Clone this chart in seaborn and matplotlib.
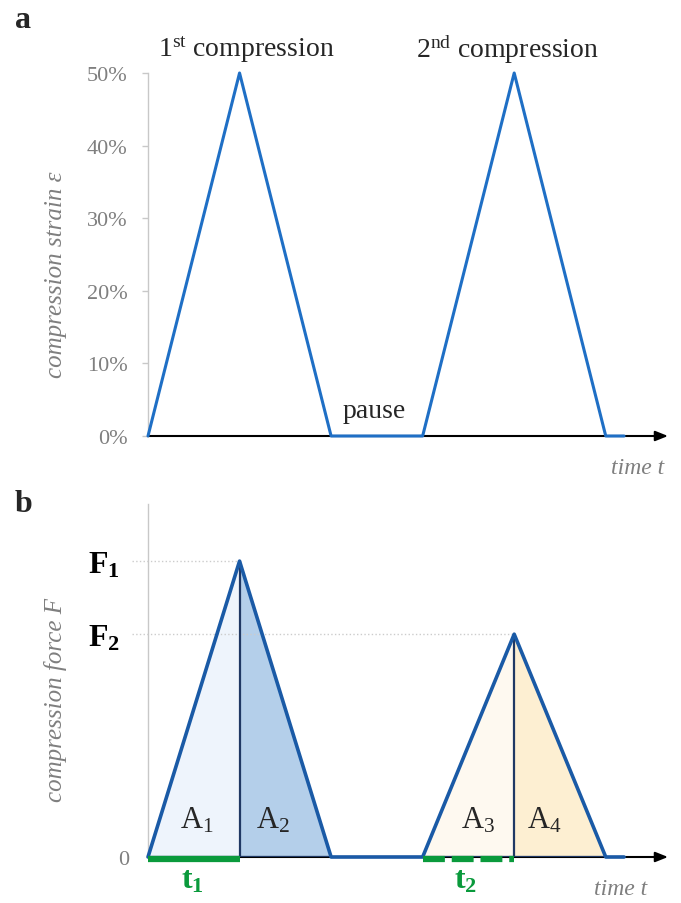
import numpy as np
import pandas as pd
import matplotlib
matplotlib.use('Agg')
import matplotlib.pyplot as plt
import matplotlib.transforms as mtransforms
import seaborn as sns

#%% data
time_pts = [0, 1, 2, 3, 4, 5, 5.2]
strain_pct = [0, 50, 0, 0, 50, 0, 0]          # panel a, %
force_rel = [0, 1.0, 0, 0, 0.753, 0, 0]       # panel b, F1 = 1
strain_ticks = [0, 10, 20, 30, 40, 50]
strain_ticklabels = ['0%', '10%', '20%', '30%', '40%', '50%']
force_ticks = [0, 0.753, 1.0]
force_ticklabels = ['0', r'$\mathbf{F_2}$', r'$\mathbf{F_1}$']
area_labels = [r'A$_1$', r'A$_2$', r'A$_3$', r'A$_4$']
area_x = [0.535, 1.37, 3.60, 4.33]

df_a = pd.DataFrame({'t': time_pts, 'strain': strain_pct})
df_b = pd.DataFrame({'t': time_pts, 'force': force_rel})

#%% style
sns.set_style('white')
plt.rcParams['font.family'] = ['Liberation Serif', 'DejaVu Serif']
plt.rcParams['mathtext.fontset'] = 'custom'
plt.rcParams['mathtext.rm'] = 'Liberation Serif'
plt.rcParams['mathtext.it'] = 'Liberation Serif:italic'
plt.rcParams['mathtext.bf'] = 'Liberation Serif:bold'

gray_txt = '#7f7f7f'
spine_c = '#c8c8c8'
blue = '#1f6fc5'
outline = '#1a5aa6'
navy = '#1f3864'
green = '#0a9a3c'

fig = plt.figure(figsize=(6.81, 9.04), dpi=100)
W, H = 681, 904
x0px, xend = 148, 668
xmax = 5.68

def px_axes(top, bottom):
    return fig.add_axes([x0px / W, 1 - bottom / H, (xend - x0px) / W, (bottom - top) / H])

def axis_arrow(ax):
    ax.annotate('', xy=(xmax, 0), xytext=(0, 0), xycoords='data',
                arrowprops=dict(arrowstyle='-|>,head_length=0.75,head_width=0.3',
                                color='black', lw=1.5, shrinkA=0, shrinkB=0),
                annotation_clip=False)

def style_ax(ax):
    for s in ['top', 'right', 'bottom']:
        ax.spines[s].set_visible(False)
    ax.spines['left'].set_color(spine_c)
    ax.spines['left'].set_linewidth(1.0)
    ax.set_xticks([])
    ax.set_xlabel('')

#%% panel a
ax1 = px_axes(74, 437)
sns.lineplot(data=df_a, x='t', y='strain', sort=False, color=blue, lw=2.2,
             ax=ax1, clip_on=False, zorder=5)
ax1.set_xlim(0, xmax)
ax1.set_ylim(0, 50)
style_ax(ax1)
ax1.set_yticks(strain_ticks)
ax1.set_yticklabels(strain_ticklabels)
ax1.tick_params(axis='y', colors=spine_c, labelcolor=gray_txt, labelsize=16,
                length=4.3, width=1, pad=10.5, left=True)
axis_arrow(ax1)
ax1.set_ylabel('compression strain ε', fontstyle='italic', color=gray_txt, fontsize=18)
ax1.yaxis.set_label_coords(-0.156, 0.446)
ax1.text(1.07, 53.3, r'1$^{\mathrm{st}}$ compression', ha='center', va='center', fontsize=20)
ax1.text(3.93, 53.3, r'2$^{\mathrm{nd}}$ compression', ha='center', va='center', fontsize=20)
ax1.text(2.47, 3.5, 'pause', ha='center', va='center', fontsize=20)
ax1.text(5.64, -4.3, 'time t', ha='right', va='center', fontstyle='italic',
         color=gray_txt, fontsize=17)

#%% panel b
ax2 = px_axes(505, 858)
ax2.set_xlim(0, xmax)
ax2.set_ylim(0, 1.193)
t = np.array(time_pts)
f = np.array(force_rel)
fills = ['#eef4fc', '#b4cfea', '#fef9f0', '#fdefd2']
ax2.fill_between(t[0:2], f[0:2], color=fills[0], lw=0)
ax2.fill_between(t[1:3], f[1:3], color=fills[1], lw=0)
ax2.fill_between(t[3:5], f[3:5], color=fills[2], lw=0)
ax2.fill_between(t[4:6], f[4:6], color=fills[3], lw=0)
# dividers at peaks
for i in [1, 4]:
    ax2.plot([t[i], t[i]], [0, f[i]], color=navy, lw=1.6, zorder=4)
# bottom of triangles
ax2.plot([t[0], t[2]], [0, 0], color=navy, lw=1.6, zorder=4)
ax2.plot([t[3], t[5]], [0, 0], color=navy, lw=1.6, zorder=4)
# guide lines to peaks
for i in [1, 4]:
    ax2.plot([-0.175, t[i]], [f[i], f[i]], color='#cccccc', lw=1, ls=':', clip_on=False, zorder=2)
sns.lineplot(data=df_b, x='t', y='force', sort=False, color=outline, lw=2.6,
             ax=ax2, clip_on=False, zorder=5)
style_ax(ax2)
ax2.set_yticks(force_ticks)
ax2.set_yticklabels(force_ticklabels)
ax2.tick_params(axis='y', length=0, pad=20, labelsize=23, colors='black')
zero_lab = ax2.get_yticklabels()[0]
zero_lab.set_color(gray_txt)
zero_lab.set_fontsize(16)
zero_lab.set_transform(zero_lab.get_transform() +
                       mtransforms.ScaledTranslation(9 / 100, 0, fig.dpi_scale_trans))
axis_arrow(ax2)
ax2.set_ylabel('compression force F', fontstyle='italic', color=gray_txt, fontsize=18)
ax2.yaxis.set_label_coords(-0.156, 0.448)
for lab, x in zip(area_labels, area_x):
    ax2.text(x, 0.101, lab, ha='center', va='baseline', fontsize=22)
# t1 / t2 markers
ax2.plot([t[0], t[1]], [-0.008, -0.008], color=green, lw=4.5, clip_on=False,
         solid_capstyle='butt', zorder=6)
ax2.plot([t[3], t[4]], [-0.008, -0.008], color=green, lw=4.5, clip_on=False,
         dashes=(3.5, 1.1), zorder=6)
ax2.text(0.49, -0.03, r'$\mathbf{t_1}$', color=green, ha='center', va='top', fontsize=23)
ax2.text(3.47, -0.03, r'$\mathbf{t_2}$', color=green, ha='center', va='top', fontsize=23)
ax2.text(5.455, -0.108, 'time t', ha='right', va='center', fontstyle='italic',
         color=gray_txt, fontsize=17)

fig.text(15 / W, 1 - 20 / H, 'a', fontweight='bold', fontsize=23, va='center', ha='left')
fig.text(15 / W, 1 - 505 / H, 'b', fontweight='bold', fontsize=23, va='center', ha='left')

fig.savefig('out.png', dpi=100)
